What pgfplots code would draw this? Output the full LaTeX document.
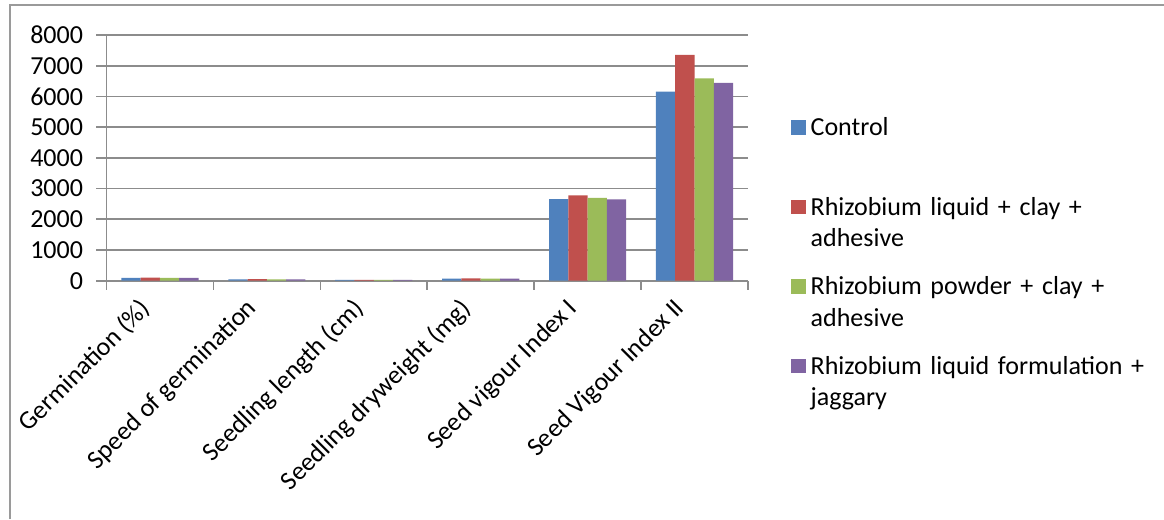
\documentclass[border=0pt]{standalone}
\usepackage{fontspec}
\setmainfont{Carlito}
\usepackage{pgfplots}
\pgfplotsset{compat=1.18}
\definecolor{c1}{HTML}{4F81BD}
\definecolor{c2}{HTML}{C0504D}
\definecolor{c3}{HTML}{9BBB59}
\definecolor{c4}{HTML}{8064A2}
\definecolor{gridgray}{HTML}{8C8C8C}
\definecolor{framegray}{HTML}{9A9A9A}
\pgfplotsset{layers/mylayers/.define layer set={axis background,axis grid,axis ticks,pre main,main,axis lines,axis tick labels,axis descriptions,axis foreground}{}}
\begin{document}
\begin{tikzpicture}[font=\fontsize{26bp}{31.7bp}\selectfont]
\begin{axis}[
  set layers=mylayers,
  clip=false,
  scale only axis, width=641.5bp, height=245.7bp,
  xmin=-0.5, xmax=5.5, ymin=0, ymax=8000,
  ybar=0pt, bar width=19.3bp,
  ytick={0,1000,...,8000},
  ymajorgrids, grid style={color=gridgray, line width=1.6bp},
  axis x line*=bottom, axis y line*=left,
  axis line style={color=gridgray, line width=1.6bp},
  xtick={0,...,5},
  xticklabels={Germination (\%),Speed of germination,Seedling length (cm),Seedling dryweight (mg),Seed vigour Index I,Seed Vigour Index II},
  minor xtick={-0.5,0.5,...,5.5},
  major x tick style={draw=none},
  tick align=outside,
  major tick length=10bp, minor tick length=9bp,
  tick style={color=gridgray, line width=1.6bp},
  x tick label style={xshift=-22bp, yshift=-3bp, rotate=45, anchor=north east, inner sep=2bp},
  y tick label style={xshift=-10bp},
  scaled y ticks=false,
  /pgf/number format/assume math mode=true,
  /pgf/number format/1000 sep={},
  legend style={at={(axis description cs:1.067,0.665)}, anchor=north west, draw=none, fill=none, inner sep=0pt, row sep=60bp, column sep=5bp,
    nodes={inner sep=0pt, text width=340bp, align=left, anchor=base west}},
  legend image code/.code={\fill[#1, draw=none] (0bp,1bp) rectangle (14.5bp,15.5bp);},
]
\addplot[fill=c1, draw=none] coordinates {(0,94) (1,45) (2,28.3) (3,65.5) (4,2660) (5,6157)};
\addplot[fill=c2, draw=none] coordinates {(0,97) (1,48) (2,28.6) (3,75.8) (4,2775) (5,7350)};
\addplot[fill=c3, draw=none] coordinates {(0,95) (1,46) (2,28.4) (3,69.4) (4,2700) (5,6592)};
\addplot[fill=c4, draw=none] coordinates {(0,94) (1,45) (2,28.1) (3,68.5) (4,2645) (5,6439)};
\addlegendentry{Control\\\strut}
\addlegendentry{Rhizobium liquid + clay +\\adhesive}
\addlegendentry{Rhizobium powder + clay +\\adhesive}
\addlegendentry{Rhizobium liquid formulation +\\jaggary}
\draw[framegray, line width=1.5bp] (rel axis cs:-0.1504,-0.9699) -- (rel axis cs:-0.1504,1.1221) -- (rel axis cs:1.6485,1.1221);
\coordinate (bbsw) at (rel axis cs:-0.166,-0.9699);
\coordinate (bbne) at (rel axis cs:1.6485,1.1425);
\end{axis}
\pgfresetboundingbox
\path (bbsw) rectangle (bbne);
\end{tikzpicture}
\end{document}
